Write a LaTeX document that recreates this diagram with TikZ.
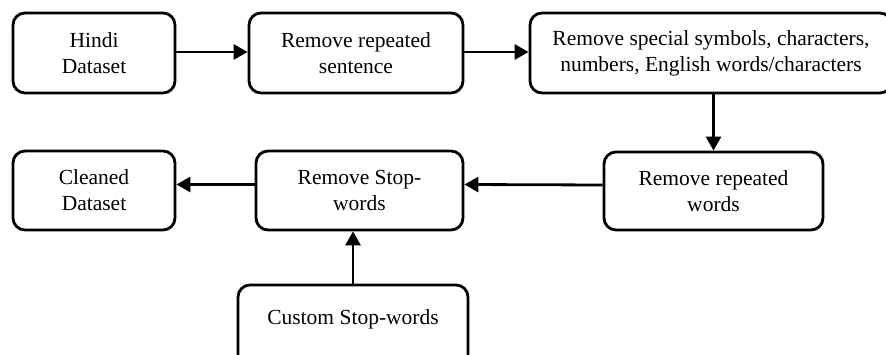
\documentclass[tikz,border=0pt]{standalone}
\usepackage{fontspec}
\setmainfont{Liberation Serif}
\usetikzlibrary{arrows.meta}
\begin{document}
\begin{tikzpicture}[x=1pt,y=-1pt,
  stepbox/.style={draw, line width=2.8pt, rounded corners=12pt, align=center,
    inner sep=0pt, font=\fontsize{21.5}{26}\selectfont},
  flow/.style={line width=2.8pt, -{Triangle[length=14pt,width=15pt]}}]
\clip (0,0) rectangle (886,355);
\useasboundingbox (0,0) rectangle (886,355);
\fill[white] (0,0) rectangle (886,355);
\node[stepbox, minimum width=162pt, minimum height=80pt] (hindi) at (94,53) {Hindi\\Dataset};
\node[stepbox, minimum width=214pt, minimum height=80pt] (rsent) at (356,53) {Remove repeated\\sentence};
\node[stepbox, minimum width=362pt, minimum height=80pt] (rsym) at (711,53) {Remove special symbols, characters,\\numbers, English words/characters};
\node[stepbox, minimum width=219pt, minimum height=78pt] (rword) at (713.5,191) {Remove repeated\\words};
\node[stepbox, minimum width=207pt, minimum height=79pt] (rstop) at (359.5,190.5) {Remove Stop-\\words};
\node[stepbox, minimum width=162pt, minimum height=79pt] (clean) at (94,190.5) {Cleaned\\Dataset};
\node[stepbox, minimum width=230pt, minimum height=90pt] (custom) at (353,330) {Custom Stop-words\\\mbox{}};
\draw[flow] ([yshift=1pt]hindi.east) -- ([yshift=1pt]rsent.west);
\draw[flow] ([yshift=1pt]rsent.east) -- ([yshift=1pt]rsym.west);
\draw[flow] (rword.north |- rsym.south) -- (rword.north);
\draw[flow] ([yshift=6pt]rword.west) -- ([yshift=6pt]rstop.east);
\draw[flow] ([yshift=6pt]rstop.west) -- ([yshift=6pt]clean.east);
\draw[flow] (custom.north) -- (custom.north |- rstop.south);
\end{tikzpicture}
\end{document}
